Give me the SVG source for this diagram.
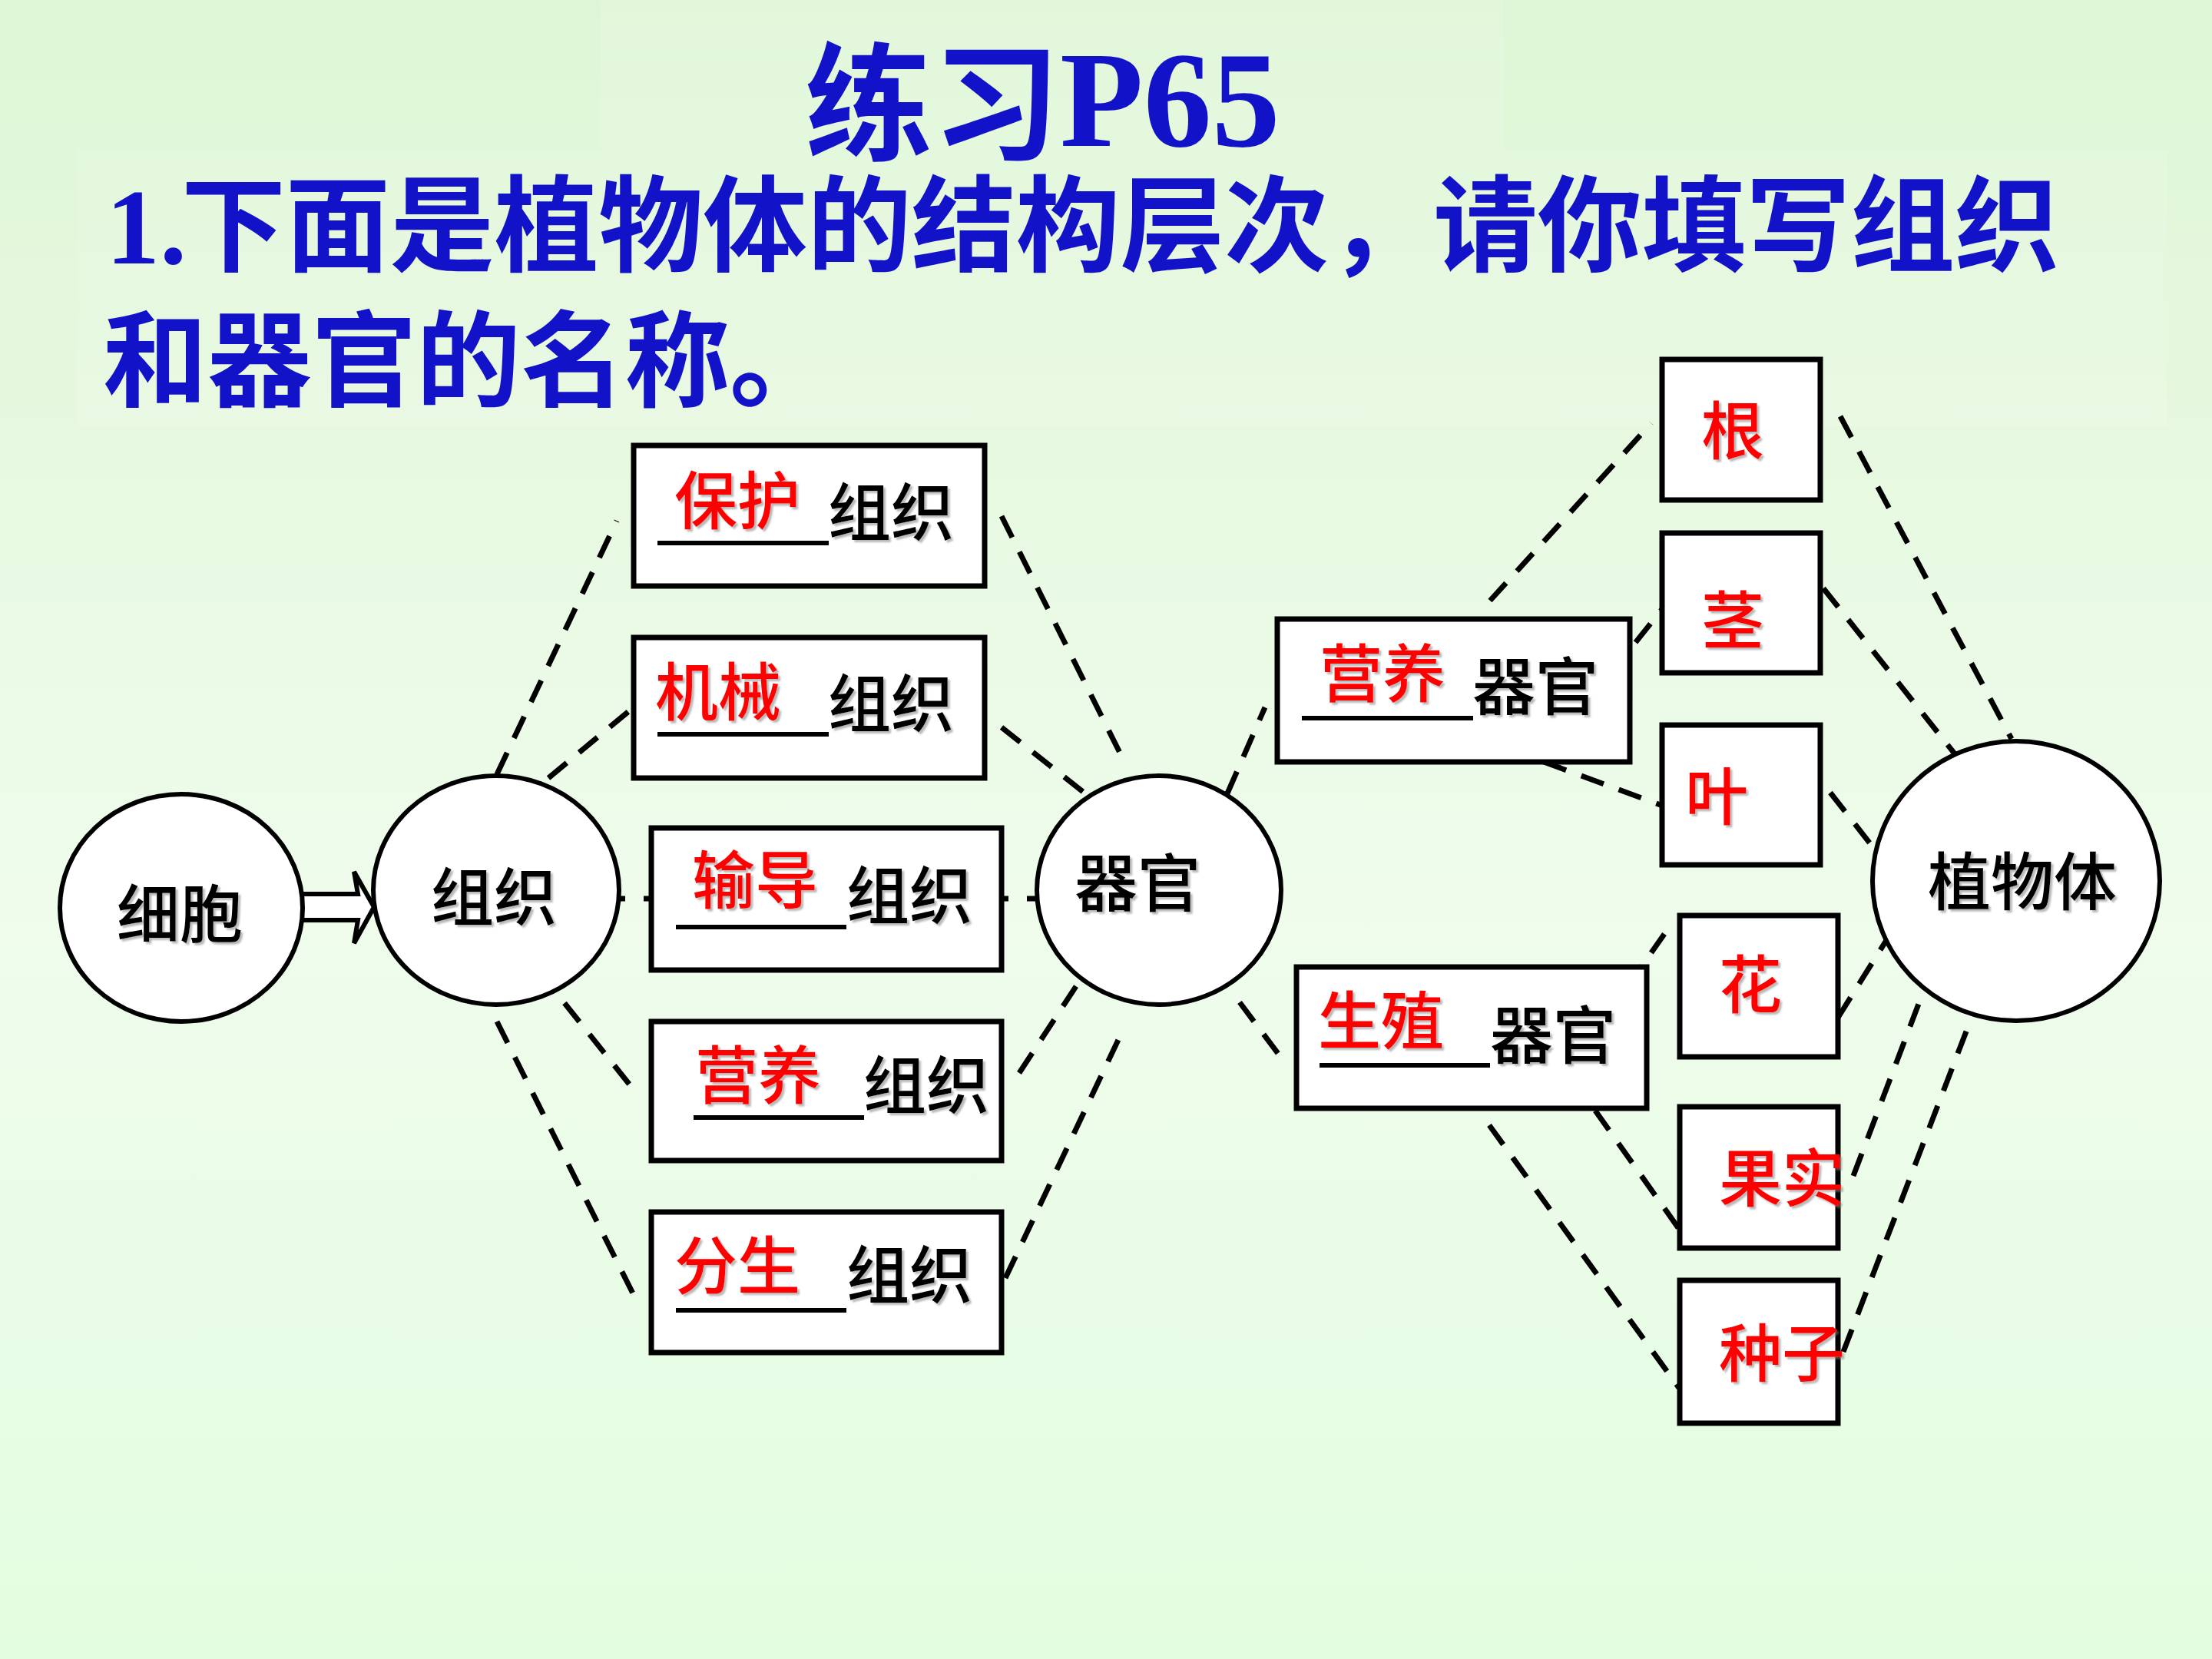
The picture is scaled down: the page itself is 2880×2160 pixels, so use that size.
<svg xmlns="http://www.w3.org/2000/svg" width="2880" height="2160" viewBox="0 0 2880 2160">
<defs>
<linearGradient id="bg" x1="0" y1="0" x2="0" y2="1">
<stop offset="0" stop-color="#def6d5"/>
<stop offset="0.55" stop-color="#effcec"/>
<stop offset="1" stop-color="#e3fde0"/>
</linearGradient>
<filter id="sh" x="-10%" y="-10%" width="130%" height="130%">
<feDropShadow dx="3" dy="3" stdDeviation="1.2" flood-color="#808080" flood-opacity="0.55"/>
</filter>
</defs>
<style>
.box{fill:#ffffff;stroke:#000;stroke-width:7}
.circ{fill:#ffffff;stroke:#000;stroke-width:6}
.dash{stroke:#000;stroke-width:7;stroke-dasharray:31 21;fill:none}
.ul{stroke:#000;stroke-width:6}
.lbl{font-family:"Noto Sans CJK SC",sans-serif;font-size:82px;font-weight:500}
.red{fill:#ff0000}
.blk{fill:#000000}
.head{font-family:"Noto Sans CJK SC",sans-serif;font-weight:700;fill:#1212c8}
</style>
<rect x="0" y="0" width="2880" height="2160" fill="url(#bg)"/>
<rect x="781" y="0" width="1177" height="195" fill="#ffffff" opacity="0.12"/>
<rect x="101" y="195" width="2721" height="360" fill="#ffffff" opacity="0.12"/>

<g id="title">
<text class="head" x="1048" y="196" font-size="166">练习<tspan font-family="Liberation Serif,serif" font-weight="700" font-size="178" y="190">P65</tspan></text>
</g>
<g id="question">
<text class="head" x="138" y="343" font-size="136"><tspan font-family="Liberation Serif,serif" font-weight="700" font-size="140">1.</tspan></text>
<text class="head" x="236" y="343" font-size="136" textLength="2445" lengthAdjust="spacing">下面是植物体的结构层次，请你填写组织</text>
<text class="head" x="134" y="519" font-size="136">和器官的名称。</text>
</g>

<g id="connectors">
<line class="dash" x1="647" y1="1008" x2="803" y2="678"/>
<line class="dash" x1="714" y1="1013" x2="826" y2="920"/>
<line class="dash" x1="782" y1="1170" x2="849" y2="1170" style="stroke-dasharray:32 24"/>
<line class="dash" x1="735" y1="1306" x2="826" y2="1420"/>
<line class="dash" x1="647" y1="1330" x2="828" y2="1692"/>
<line class="dash" x1="1304" y1="672" x2="1464" y2="992"/>
<line class="dash" x1="1304" y1="947" x2="1414" y2="1034"/>
<line class="dash" x1="1327" y1="1397" x2="1405" y2="1278"/>
<line class="dash" x1="1309" y1="1664" x2="1464" y2="1337"/>
<line class="dash" x1="1282" y1="1170" x2="1396" y2="1170" style="stroke-dasharray:31 24"/>
<line class="dash" x1="1598" y1="1033" x2="1647" y2="921"/>
<line class="dash" x1="1614" y1="1305" x2="1668" y2="1377"/>
<line class="dash" x1="1940" y1="782" x2="2150" y2="551"/>
<line class="dash" x1="2097" y1="877" x2="2189" y2="762"/>
<line class="dash" x1="2010" y1="992" x2="2189" y2="1058"/>
<line class="dash" x1="2120" y1="1283" x2="2167" y2="1216"/>
<line class="dash" x1="2077" y1="1446" x2="2186" y2="1600"/>
<line class="dash" x1="1939" y1="1465" x2="2186" y2="1807"/>
<line class="dash" x1="2396" y1="542" x2="2619" y2="962"/>
<line class="dash" x1="2374" y1="766" x2="2551" y2="989"/>
<line class="dash" x1="2383" y1="1032" x2="2437" y2="1101"/>
<line class="dash" x1="2393" y1="1325" x2="2458" y2="1221"/>
<line class="dash" x1="2413" y1="1531" x2="2503" y2="1294"/>
<line class="dash" x1="2400" y1="1760" x2="2573" y2="1309"/>
<polygon points="390,1164 466,1164 461,1135 487,1181 461,1228 466,1198 390,1198" fill="#ffffff" stroke="#000" stroke-width="6" stroke-linejoin="miter"/>
</g>

<g id="cell">
<ellipse class="circ" cx="236" cy="1182" rx="158" ry="148"/>
<text class="lbl blk" x="152" y="1220" filter="url(#sh)">细胞</text>
</g>
<g id="tissue">
<ellipse class="circ" cx="646" cy="1159" rx="160" ry="149"/>
<text class="lbl blk" x="561" y="1198" filter="url(#sh)">组织</text>
</g>
<g id="organ">
<ellipse class="circ" cx="1509" cy="1159" rx="159" ry="149"/>
<text class="lbl blk" x="1399" y="1180" filter="url(#sh)">器官</text>
</g>
<g id="plant">
<ellipse class="circ" cx="2625" cy="1147" rx="187" ry="182"/>
<text class="lbl blk" x="2510" y="1178" filter="url(#sh)">植物体</text>
</g>

<g id="t-protect">
<rect class="box" x="825" y="580" width="457" height="183"/>
<text class="lbl red" x="878" y="682" filter="url(#sh)">保护</text>
<line class="ul" x1="856" y1="707" x2="1079" y2="707"/>
<text class="lbl blk" x="1078" y="697" filter="url(#sh)">组织</text>
</g>
<g id="t-mech">
<rect class="box" x="825" y="830" width="457" height="183"/>
<text class="lbl red" x="853" y="931" filter="url(#sh)">机械</text>
<line class="ul" x1="856" y1="956" x2="1079" y2="956"/>
<text class="lbl blk" x="1078" y="946" filter="url(#sh)">组织</text>
</g>
<g id="t-conduct">
<rect class="box" x="848" y="1078" width="456" height="185"/>
<text class="lbl red" x="901" y="1176" filter="url(#sh)">输导</text>
<line class="ul" x1="880" y1="1207" x2="1102" y2="1207"/>
<text class="lbl blk" x="1102" y="1196" filter="url(#sh)">组织</text>
</g>
<g id="t-nutri">
<rect class="box" x="848" y="1330" width="456" height="181"/>
<text class="lbl red" x="905" y="1430" filter="url(#sh)">营养</text>
<line class="ul" x1="903" y1="1455" x2="1125" y2="1455"/>
<text class="lbl blk" x="1124" y="1443" filter="url(#sh)">组织</text>
</g>
<g id="t-merist">
<rect class="box" x="848" y="1578" width="456" height="183"/>
<text class="lbl red" x="878" y="1678" filter="url(#sh)">分生</text>
<line class="ul" x1="880" y1="1706" x2="1102" y2="1706"/>
<text class="lbl blk" x="1102" y="1690" filter="url(#sh)">组织</text>
</g>

<g id="o-veg">
<rect class="box" x="1663" y="806" width="459" height="186"/>
<text class="lbl red" x="1718" y="907" filter="url(#sh)">营养</text>
<line class="ul" x1="1695" y1="935" x2="1918" y2="935"/>
<text class="lbl blk" x="1917" y="924" filter="url(#sh)">器官</text>
</g>
<g id="o-rep">
<rect class="box" x="1688" y="1259" width="456" height="184"/>
<text class="lbl red" x="1716" y="1359" filter="url(#sh)">生殖</text>
<line class="ul" x1="1718" y1="1387" x2="1940" y2="1387"/>
<text class="lbl blk" x="1940" y="1378" filter="url(#sh)">器官</text>
</g>

<g id="root">
<rect class="box" x="2164" y="468" width="206" height="183"/>
<text class="lbl red" x="2215" y="591" filter="url(#sh)">根</text>
</g>
<g id="stem">
<rect class="box" x="2164" y="694" width="206" height="182"/>
<text class="lbl red" x="2215" y="838" filter="url(#sh)">茎</text>
</g>
<g id="leaf">
<rect class="box" x="2164" y="944" width="206" height="182"/>
<text class="lbl red" x="2194" y="1067" filter="url(#sh)">叶</text>
</g>
<g id="flower">
<rect class="box" x="2187" y="1192" width="206" height="184"/>
<text class="lbl red" x="2238" y="1312" filter="url(#sh)">花</text>
</g>
<g id="fruit">
<rect class="box" x="2187" y="1441" width="206" height="184"/>
<text class="lbl red" x="2238" y="1564" filter="url(#sh)">果实</text>
</g>
<g id="seed">
<rect class="box" x="2187" y="1667" width="206" height="186"/>
<text class="lbl red" x="2238" y="1792" filter="url(#sh)">种子</text>
</g>
</svg>
